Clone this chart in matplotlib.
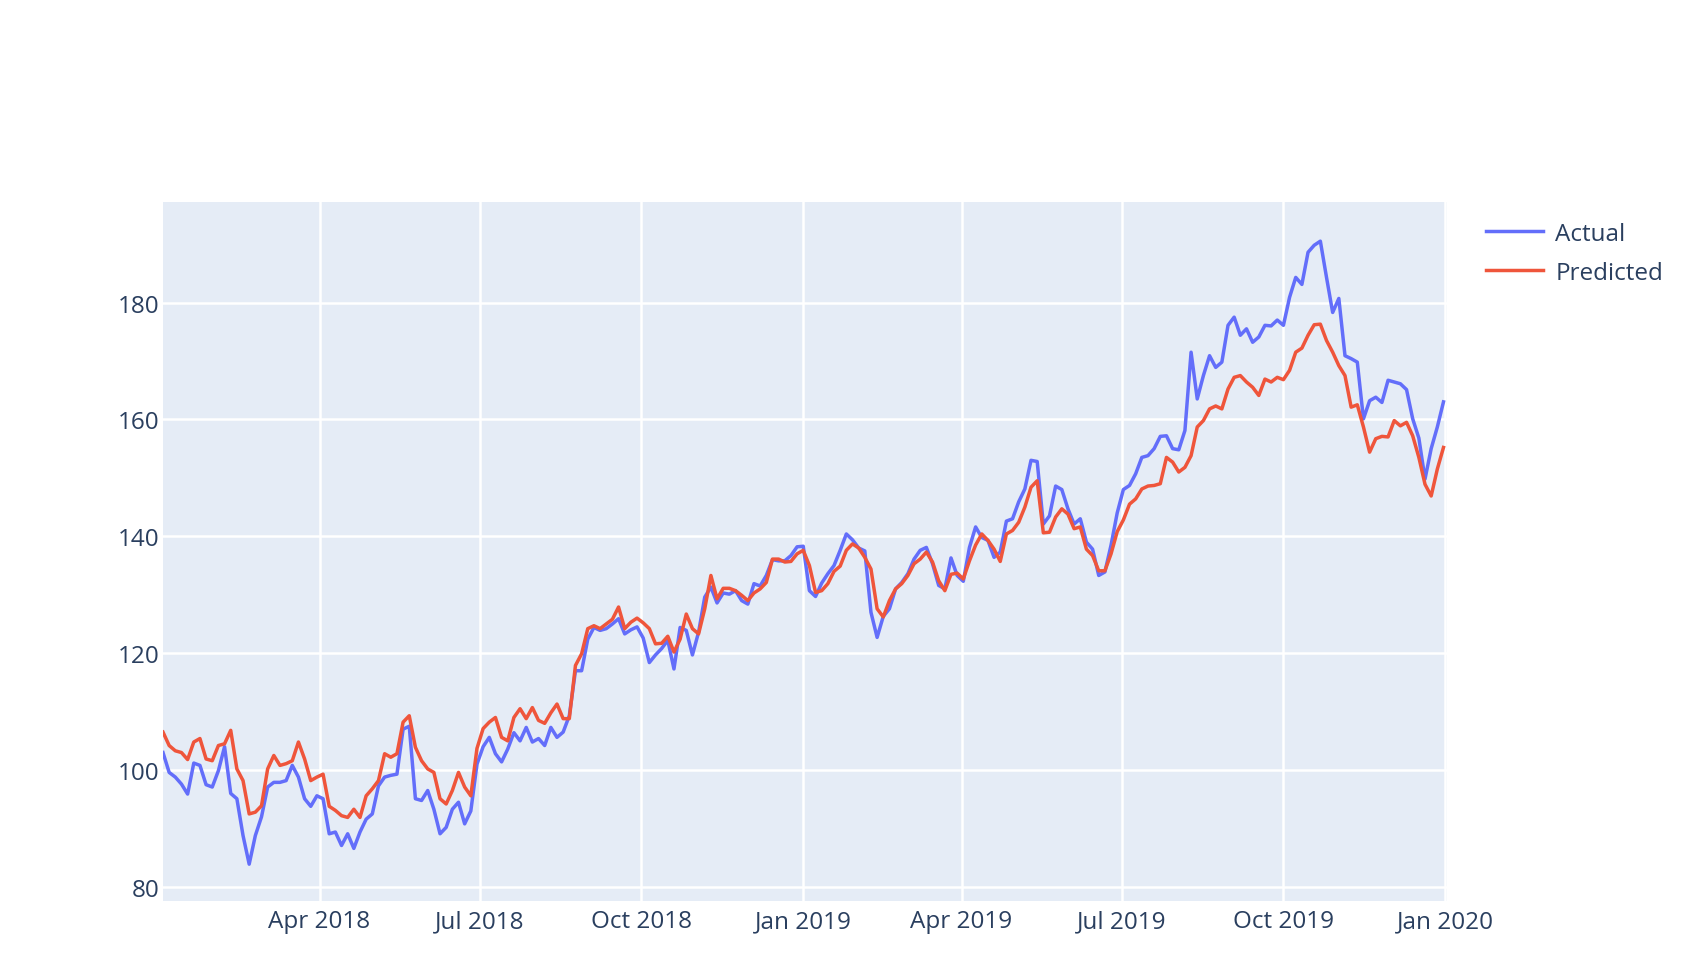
import matplotlib
matplotlib.use('Agg')
import matplotlib.pyplot as plt
import pandas as pd

plt.rcParams['font.family'] = ['Open Sans', 'DejaVu Sans']

# ---- data (twice-weekly samples) ----
start_date = '2018-01-02'
n_points = 209
step = '84h'
dates = pd.date_range(start_date, periods=n_points, freq=step)

actual = [103.0, 99.6, 98.8, 97.6, 95.9, 101.2, 100.8, 97.5, 97.1, 99.9,
          104.0, 96.0, 95.1, 88.8, 83.9, 88.8, 92.0, 97.1, 97.9, 97.9,
          98.2, 100.8, 98.8, 95.1, 93.8, 95.6, 95.1, 89.1, 89.4, 87.1,
          89.1, 86.6, 89.4, 91.6, 92.5, 97.3, 98.8, 99.1, 99.3, 107.0,
          107.5, 95.1, 94.8, 96.5, 93.3, 89.1, 90.2, 93.3, 94.5, 90.8,
          93.0, 101.0, 104.0, 105.6, 102.8, 101.4, 103.6, 106.4, 105.0, 107.3,
          104.8, 105.4, 104.2, 107.3, 105.6, 106.5, 109.3, 117.0, 117.0, 122.4,
          124.4, 123.9, 124.2, 125.0, 125.9, 123.3, 124.0, 124.5, 122.6, 118.4,
          119.7, 120.8, 122.2, 117.3, 124.4, 123.9, 119.7, 123.6, 129.6, 131.3,
          128.6, 130.3, 130.1, 130.7, 129.0, 128.4, 131.9, 131.5, 133.3, 136.0,
          135.8, 135.8, 136.7, 138.2, 138.3, 130.7, 129.7, 132.0, 133.6, 135.0,
          137.6, 140.4, 139.4, 138.0, 137.5, 127.0, 122.7, 126.3, 127.6, 131.0,
          132.1, 133.6, 136.1, 137.6, 138.1, 135.3, 131.6, 131.0, 136.3, 133.3,
          132.3, 138.1, 141.6, 139.8, 139.3, 136.4, 137.3, 142.6, 143.0, 145.9,
          148.1, 153.0, 152.8, 142.1, 143.5, 148.6, 148.0, 144.7, 142.1, 143.0,
          139.0, 137.8, 133.3, 133.9, 138.5, 144.0, 148.0, 148.7, 150.7, 153.5,
          153.8, 155.0, 157.1, 157.2, 155.0, 154.8, 158.1, 171.5, 163.5, 167.5,
          170.9, 168.9, 169.8, 176.1, 177.5, 174.4, 175.5, 173.2, 174.1, 176.1,
          176.0, 177.0, 176.1, 180.9, 184.3, 183.1, 188.6, 189.8, 190.5, 184.3,
          178.3, 180.7, 170.9, 170.4, 169.8, 160.1, 163.2, 163.8, 162.9, 166.7,
          166.4, 166.1, 165.1, 160.1, 156.8, 149.8, 155.0, 158.7, 163.0]

predicted = [106.5, 104.2, 103.3, 103.0, 101.8, 104.8, 105.4, 101.9, 101.6, 104.2,
             104.5, 106.8, 100.2, 98.2, 92.5, 92.8, 93.9, 100.2, 102.5, 100.8,
             101.1, 101.6, 104.8, 101.9, 98.2, 98.8, 99.3, 93.8, 93.1, 92.2,
             91.9, 93.3, 91.9, 95.6, 96.8, 98.2, 102.8, 102.2, 102.8, 108.2,
             109.3, 103.9, 101.6, 100.2, 99.6, 95.1, 94.2, 96.5, 99.6, 97.1,
             95.6, 103.7, 107.1, 108.2, 109.0, 105.6, 105.0, 109.0, 110.5, 108.8,
             110.7, 108.5, 108.0, 109.8, 111.3, 108.8, 108.8, 117.9, 119.9, 124.2,
             124.7, 124.2, 125.0, 125.8, 127.9, 124.2, 125.3, 126.0, 125.2, 124.2,
             121.6, 121.7, 122.9, 120.2, 122.4, 126.7, 124.2, 123.3, 127.6, 133.3,
             129.3, 131.1, 131.1, 130.7, 129.9, 129.0, 130.3, 131.0, 132.1, 136.1,
             136.1, 135.6, 135.7, 137.0, 137.6, 135.0, 130.4, 130.7, 131.9, 134.0,
             134.9, 137.6, 138.7, 138.0, 136.4, 134.4, 127.6, 126.2, 129.0, 131.0,
             131.9, 133.3, 135.3, 136.1, 137.3, 135.6, 132.4, 130.7, 133.5, 133.7,
             132.7, 135.8, 138.5, 140.4, 139.3, 137.8, 135.7, 140.4, 141.0, 142.4,
             145.0, 148.4, 149.5, 140.6, 140.7, 143.3, 144.7, 143.8, 141.3, 141.6,
             137.8, 136.7, 134.1, 134.1, 137.0, 140.8, 142.8, 145.5, 146.4, 148.1,
             148.6, 148.7, 149.0, 153.5, 152.7, 151.0, 151.8, 153.8, 158.7, 159.8,
             161.8, 162.3, 161.8, 165.2, 167.2, 167.5, 166.4, 165.5, 164.1, 166.9,
             166.4, 167.2, 166.8, 168.4, 171.5, 172.2, 174.4, 176.2, 176.3, 173.5,
             171.5, 169.2, 167.5, 162.1, 162.5, 158.7, 154.4, 156.7, 157.1, 157.0,
             159.8, 158.9, 159.5, 157.2, 153.5, 148.9, 146.9, 151.5, 155.2]

series_names = ['Actual', 'Predicted']
series_colors = ['#636EFA', '#EF553B']

y_ticks = [80, 100, 120, 140, 160, 180]
x_tick_dates = ['2018-04-01', '2018-07-01', '2018-10-01', '2019-01-01',
                '2019-04-01', '2019-07-01', '2019-10-01', '2020-01-01']
x_tick_labels = ['Apr 2018', 'Jul 2018', 'Oct 2018', 'Jan 2019',
                 'Apr 2019', 'Jul 2019', 'Oct 2019', 'Jan 2020']

# ---- figure ----
W, H = 1700, 970
fig = plt.figure(figsize=(W / 100, H / 100), dpi=100)
fig.patch.set_facecolor('white')
ax = fig.add_axes([163 / W, (H - 902) / H, (1447 - 163) / W, (902 - 203) / H])
ax.set_facecolor('#E5ECF6')

for vals, name, col in zip([actual, predicted], series_names, series_colors):
    ax.plot(dates, vals, color=col, lw=2.5, label=name, solid_joinstyle='round')

ax.set_xlim(pd.Timestamp('2018-01-02'), pd.Timestamp('2020-01-02'))
ax.set_ylim(77.6, 197.2)
ax.set_yticks(y_ticks)
ax.set_xticks(pd.to_datetime(x_tick_dates))
ax.set_xticklabels(x_tick_labels)
ax.grid(True, color='white', lw=1.8)
ax.set_axisbelow(True)
for s in ax.spines.values():
    s.set_visible(False)
ax.tick_params(axis='both', length=0, labelsize=17.5, labelcolor='#2a3f5f')
ax.tick_params(axis='y', pad=2.5)
ax.tick_params(axis='x', pad=6)

leg = ax.legend(loc='upper left', bbox_to_anchor=(1486 / W, 1 - 223 / H),
                bbox_transform=fig.transFigure, frameon=False, fontsize=17.5,
                handlelength=2.35, handletextpad=0.5, labelspacing=0.6,
                borderaxespad=0, borderpad=0)
for t in leg.get_texts():
    t.set_color('#2a3f5f')

fig.savefig('out.png', dpi=100)
